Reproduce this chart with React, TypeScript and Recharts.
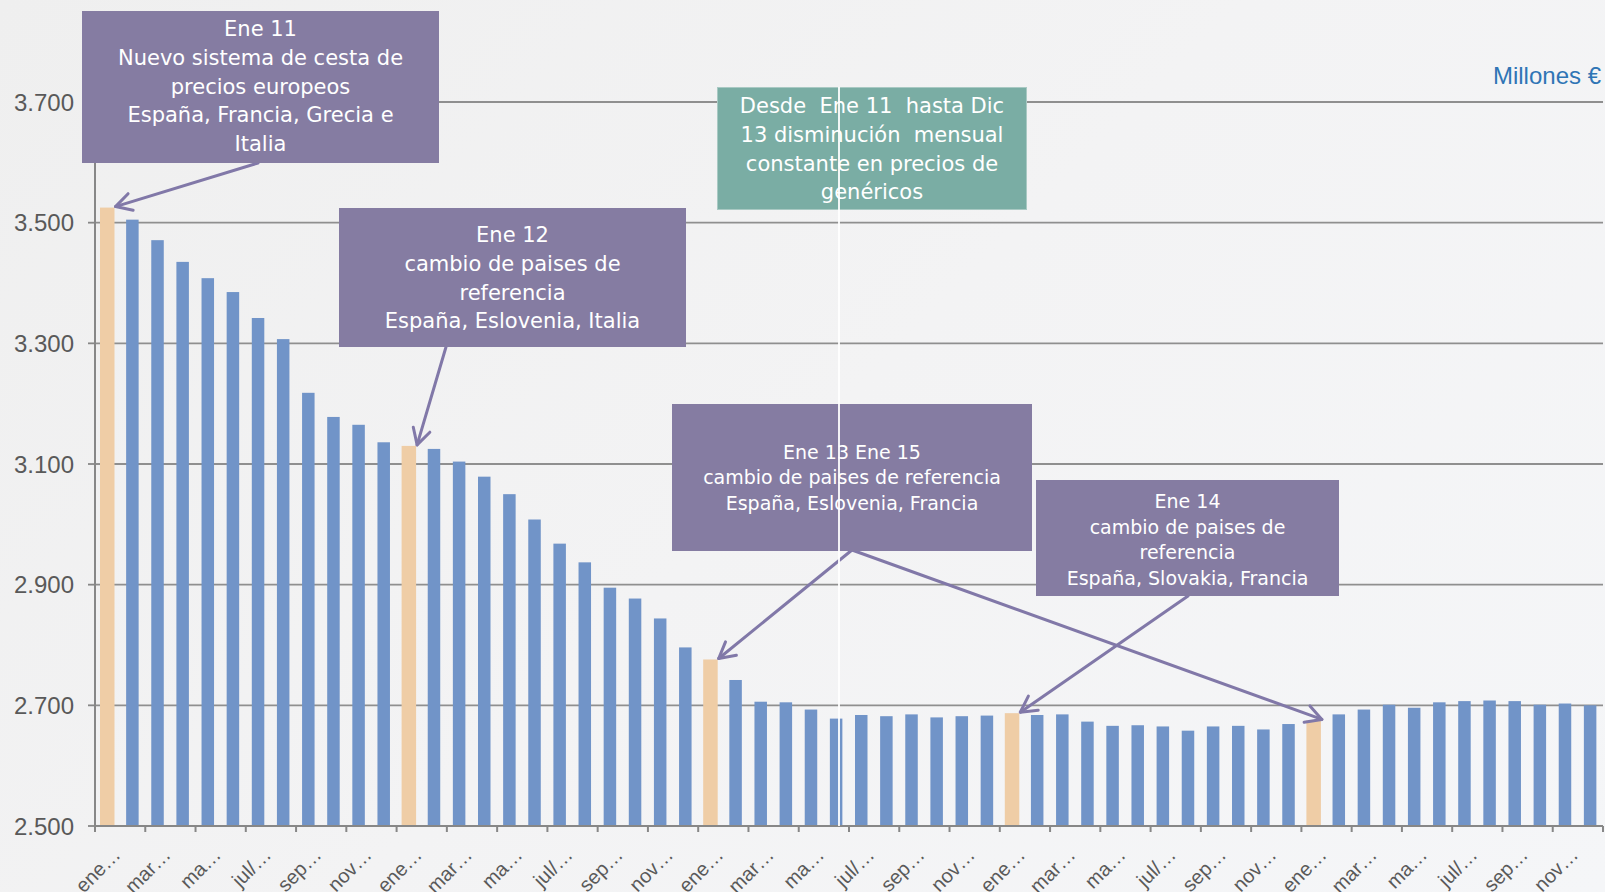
import React from 'react';
import { BarChart, Bar, XAxis, YAxis, CartesianGrid } from 'recharts';

// Spanish month abbreviations and years (2011-2015)
const MONTHS = ['ene', 'feb', 'mar', 'abr', 'may', 'jun', 'jul', 'ago', 'sep', 'oct', 'nov', 'dic'];
const YEARS = ['11', '12', '13', '14', '15'];

// what the axis shows once Excel truncated the labels
const TICK_TEXT: Record<string, string> = {
  ene: 'ene…',
  mar: 'mar…',
  may: 'ma…',
  jul: 'jul/…',
  sep: 'sep…',
  nov: 'nov…',
};

// monthly spend, millones €
const VALUES = [
  3525, 3505, 3471, 3435, 3408, 3385, 3342, 3307, 3218, 3178, 3165, 3136,
  3130, 3125, 3104, 3079, 3050, 3008, 2968, 2937, 2895, 2877, 2844, 2796,
  2776, 2742, 2706, 2705, 2693, 2678, 2684, 2682, 2685, 2680, 2682, 2683,
  2687, 2684, 2685, 2673, 2666, 2667, 2665, 2658, 2665, 2666, 2660, 2669,
  2675, 2685, 2693, 2701, 2696, 2705, 2707, 2708, 2707, 2701, 2703, 2700,
];

const HIGHLIGHTED = ['ene/11', 'ene/12', 'ene/13', 'ene/14', 'ene/15'];
const Y_TICKS = [2500, 2700, 2900, 3100, 3300, 3500, 3700];
const UNIT_LABEL = 'Millones €';

const NOTES = [
  {
    id: 'n11',
    lines: ['Ene 11', 'Nuevo sistema de cesta de', 'precios europeos', 'España, Francia, Grecia e', 'Italia'],
    targets: ['ene/11'],
  },
  {
    id: 'n12',
    lines: ['Ene 12', 'cambio de paises de', 'referencia', 'España, Eslovenia, Italia'],
    targets: ['ene/12'],
  },
  {
    id: 'trend',
    lines: ['Desde  Ene 11  hasta Dic', '13 disminución  mensual', 'constante en precios de', 'genéricos'],
    targets: [],
  },
  {
    id: 'n13',
    lines: ['Ene 13 Ene 15', 'cambio de paises de referencia', 'España, Eslovenia, Francia'],
    targets: ['ene/13', 'ene/15'],
  },
  {
    id: 'n14',
    lines: ['Ene 14', 'cambio de paises de', 'referencia', 'España, Slovakia, Francia'],
    targets: ['ene/14'],
  },
];

const data = YEARS.flatMap((yr) => MONTHS.map((m) => `${m}/${yr}`)).map((month, i) => ({
  month,
  value: VALUES[i],
}));

// layout
const W = 1605;
const H = 892;
const PLOT_LEFT = 95;
const PLOT_RIGHT = 1603;
const PLOT_TOP = 102;
const X_AXIS_H = 66;
const BAND = (PLOT_RIGHT - PLOT_LEFT) / data.length;

const BLUE = '#7194c8';
const ORANGE = '#efcda6';
const PURPLE = '#857ca2';
const GREEN = '#7aada4';
const ARROW = '#8178a8';
const AXIS = '#878787';
const TEXT = '#595959';

const BOXES: Record<string, any> = {
  n11: { left: 82, top: 11, width: 357, height: 152, pad: 4, font: 21, lh: 28.8, bg: PURPLE, anchor: [258, 163] },
  n12: { left: 339, top: 208, width: 347, height: 139, pad: 13, font: 21, lh: 28.8, bg: PURPLE, anchor: [446, 347] },
  trend: { left: 717, top: 87, width: 310, height: 123, pad: 4, font: 21, lh: 28.8, bg: GREEN, border: '#a9c9c3', anchor: null },
  n13: { left: 672, top: 404, width: 360, height: 147, pad: 36, font: 19, lh: 25.4, bg: PURPLE, anchor: [852, 550] },
  n14: { left: 1036, top: 480, width: 303, height: 116, pad: 9, font: 19, lh: 25.6, bg: PURPLE, anchor: [1188, 596] },
};

const fmt = (v: number) => `${Math.floor(v / 1000)}.${String(v % 1000).padStart(3, '0')}`;

const Arrow = ({ from, to }: { from: number[]; to: number[] }) => {
  const [x1, y1] = from;
  const [x2, y2] = to;
  const ang = Math.atan2(y1 - y2, x1 - x2);
  const L = 18;
  const a = 0.5;
  const p1 = `${x2 + L * Math.cos(ang + a)},${y2 + L * Math.sin(ang + a)}`;
  const p2 = `${x2 + L * Math.cos(ang - a)},${y2 + L * Math.sin(ang - a)}`;
  return (
    <g stroke={ARROW} strokeWidth={3} fill="none" strokeLinecap="round" strokeLinejoin="round">
      <line x1={x1} y1={y1} x2={x2} y2={y2} />
      <polyline points={`${p1} ${x2},${y2} ${p2}`} />
    </g>
  );
};

const BarShape = (props: any) => {
  const { x, y, width, height, payload } = props;
  const hl = HIGHLIGHTED.includes(payload.month);
  const bx = hl ? x - 1 : x;
  const bw = hl ? width + 2 : width;
  const arrows = NOTES.filter((n) => n.targets.includes(payload.month)).map((n) => BOXES[n.id].anchor);
  return (
    <g>
      <rect x={bx} y={y} width={bw} height={height} fill={hl ? ORANGE : BLUE} />
      {arrows.map((a, i) => (
        <Arrow key={i} from={a} to={[bx + bw + 1, y - 1]} />
      ))}
    </g>
  );
};

const XTick = (props: any) => {
  const { x, y, payload, index } = props;
  const m = String(payload.value).split('/')[0];
  const left = x - BAND / 2;
  return (
    <g>
      <line x1={left} x2={left} y1={y} y2={y + 6} stroke={AXIS} strokeWidth={2} />
      {index === data.length / 2 - 1 && (
        <line x1={x + BAND * 1.5} x2={x + BAND * 1.5} y1={y} y2={y + 6} stroke={AXIS} strokeWidth={2} />
      )}
      <text
        x={x + 14}
        y={y + 30}
        textAnchor="end"
        transform={`rotate(-45 ${x + 14} ${y + 30})`}
        fill={TEXT}
        fontSize={20}
        fontFamily="Liberation Sans, Arial, sans-serif"
      >
        {TICK_TEXT[m] ?? m}
      </text>
    </g>
  );
};

export default function App() {
  return (
    <div
      style={{
        position: 'absolute',
        left: 0,
        top: 0,
        width: W,
        height: H,
        overflow: 'hidden',
        background: 'linear-gradient(135deg, #efefef 0%, #f3f3f4 50%, #f5f6f8 100%)',
      }}
    >
      <BarChart
        width={W}
        height={H}
        data={data}
        margin={{ top: PLOT_TOP, right: W - PLOT_RIGHT, bottom: 0, left: 0 }}
        barSize={12.5}
      >
        <CartesianGrid vertical={false} stroke="#8f8f8f" strokeWidth={1.8} />
        <YAxis
          width={PLOT_LEFT}
          domain={[2500, 3700]}
          ticks={Y_TICKS}
          interval={0}
          tickFormatter={fmt}
          axisLine={{ stroke: AXIS, strokeWidth: 2 }}
          tickLine={{ stroke: AXIS, strokeWidth: 1.8 }}
          tickSize={7}
          tickMargin={14}
          tick={{ fill: TEXT, fontSize: 24, fontFamily: 'Liberation Sans, Arial, sans-serif' }}
        />
        <XAxis
          dataKey="month"
          interval={1}
          height={X_AXIS_H}
          tickLine={false}
          tickSize={0}
          tickMargin={0}
          axisLine={{ stroke: AXIS, strokeWidth: 2 }}
          tick={<XTick />}
        />
        <Bar dataKey="value" isAnimationActive={false} shape={<BarShape />} />
      </BarChart>

      <div
        style={{
          position: 'absolute',
          right: 4,
          top: 62,
          fontFamily: 'Liberation Sans, Arial, sans-serif',
          fontSize: 24,
          color: '#2f75b5',
        }}
      >
        {UNIT_LABEL}
      </div>

      {NOTES.map((n) => {
        const b = BOXES[n.id];
        return (
          <div
            key={n.id}
            style={{
              position: 'absolute',
              left: b.left,
              top: b.top,
              width: b.width,
              height: b.height,
              boxSizing: 'border-box',
              paddingTop: b.pad,
              background: b.bg,
              border: b.border ? `1.5px solid ${b.border}` : 'none',
              color: '#ffffff',
              fontFamily: 'DejaVu Sans, sans-serif',
              fontSize: b.font,
              lineHeight: `${b.lh}px`,
              textAlign: 'center',
              whiteSpace: 'pre',
            }}
          >
            {n.lines.map((l, i) => (
              <div key={i}>{l}</div>
            ))}
          </div>
        );
      })}

      <div
        style={{
          position: 'absolute',
          left: 838,
          top: 87,
          width: 1.5,
          height: 826 - 87,
          background: '#ffffff',
          opacity: 0.9,
        }}
      />
    </div>
  );
}
